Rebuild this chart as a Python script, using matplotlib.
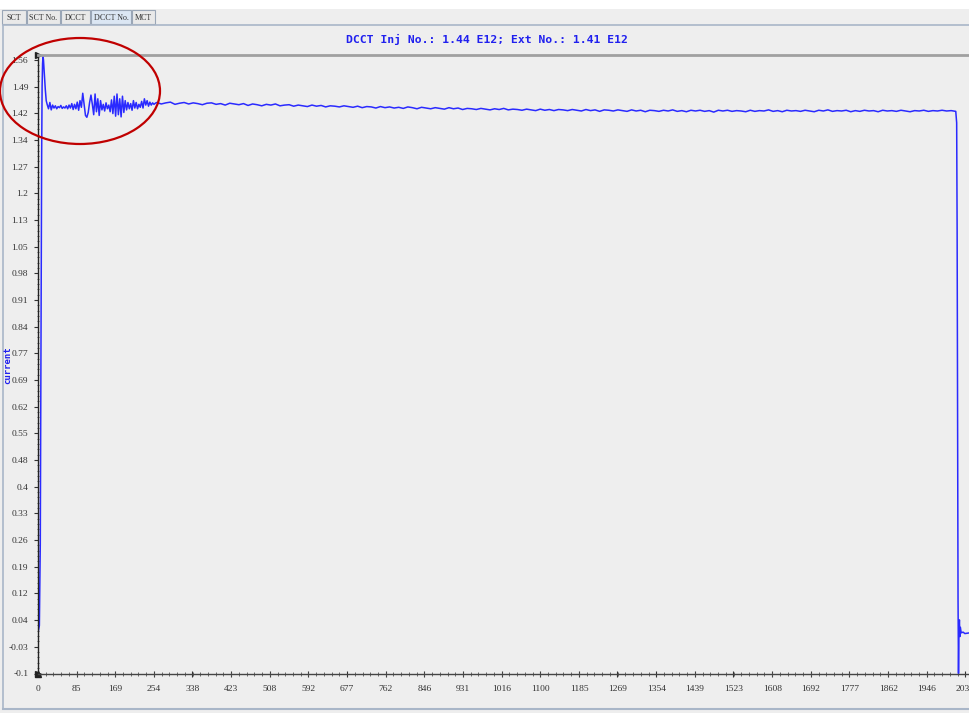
import matplotlib
matplotlib.use("Agg")
import numpy as np
import matplotlib.pyplot as plt
from matplotlib.patches import Ellipse, Rectangle
from matplotlib.lines import Line2D
from matplotlib.ticker import FixedLocator

# ---------------- data ----------------
title_text = "DCCT Inj No.: 1.44 E12; Ext No.: 1.41 E12"
y_label = "current"
tab_names = ["SCT", "SCT No.", "DCCT", "DCCT No.", "MCT"]

x_tick_labels = ["0", "85", "169", "254", "338", "423", "508", "592", "677", "762",
                 "846", "931", "1016", "1100", "1185", "1269", "1354", "1439", "1523",
                 "1608", "1692", "1777", "1862", "1946", "2031"]
y_tick_labels = ["-0.1", "-0.03", "0.04", "0.12", "0.19", "0.26", "0.33", "0.4", "0.48",
                 "0.55", "0.62", "0.69", "0.77", "0.84", "0.91", "0.98", "1.05", "1.13",
                 "1.2", "1.27", "1.34", "1.42", "1.49", "1.56"]

# injection / rise
rise_x = [0, 3, 5, 6, 7, 8, 9, 10, 11, 12, 14, 16, 18]
rise_y = [0.01, 0.03, 0.25, 0.60, 0.98, 1.30, 1.49, 1.55, 1.57, 1.56, 1.52, 1.48, 1.45]

# early oscillations (samples 20..257)
osc_x = [20, 23, 26, 29, 32, 35, 38, 41, 44, 47, 50, 53, 56, 59, 62, 65, 68, 71, 74, 77,
         80, 83, 86, 89, 92, 95, 98, 101, 104, 107, 110, 113, 116, 119, 122, 125, 128, 131, 134, 137,
         140, 143, 146, 149, 152, 155, 158, 161, 164, 167, 170, 173, 176, 179, 182, 185, 188, 191, 194, 197,
         200, 203, 206, 209, 212, 215, 218, 221, 224, 227, 230, 233, 236, 239, 242, 245, 248, 251, 254, 257]
osc_y = [1.440, 1.428, 1.445, 1.425, 1.438, 1.430, 1.436, 1.428, 1.434, 1.431,
         1.437, 1.429, 1.433, 1.430, 1.436, 1.428, 1.438, 1.430, 1.442, 1.426,
         1.440, 1.428, 1.446, 1.424, 1.450, 1.432, 1.470, 1.440, 1.410, 1.405,
         1.418, 1.445, 1.465, 1.440, 1.412, 1.468, 1.420, 1.455, 1.410, 1.450,
         1.425, 1.440, 1.422, 1.444, 1.428, 1.438, 1.420, 1.452, 1.415, 1.462,
         1.408, 1.468, 1.412, 1.455, 1.406, 1.462, 1.418, 1.450, 1.425, 1.445,
         1.428, 1.442, 1.424, 1.450, 1.430, 1.445, 1.428, 1.440, 1.432, 1.448,
         1.430, 1.455, 1.438, 1.450, 1.435, 1.446, 1.438, 1.444, 1.440, 1.443]

# flat top (samples 260..2000, every 10)
main_x = list(range(260, 2001, 10))
main_y = [1.445, 1.441, 1.444, 1.446, 1.440, 1.443, 1.445, 1.441, 1.444, 1.442,
          1.439, 1.443, 1.444, 1.440, 1.442, 1.438, 1.443, 1.441, 1.439, 1.442,
          1.437, 1.441, 1.439, 1.436, 1.440, 1.438, 1.441, 1.436, 1.438, 1.439,
          1.435, 1.438, 1.436, 1.434, 1.438, 1.435, 1.437, 1.433, 1.436, 1.435,
          1.433, 1.436, 1.434, 1.432, 1.435, 1.431, 1.434, 1.433, 1.430, 1.434,
          1.431, 1.433, 1.430, 1.432, 1.429, 1.433, 1.431, 1.428, 1.432, 1.430,
          1.428, 1.431, 1.429, 1.427, 1.431, 1.428, 1.430, 1.426, 1.429, 1.428,
          1.426, 1.429, 1.427, 1.425, 1.428, 1.426, 1.429, 1.425, 1.427, 1.426,
          1.424, 1.427, 1.425, 1.423, 1.427, 1.424, 1.426, 1.423, 1.426, 1.425,
          1.423, 1.426, 1.424, 1.422, 1.426, 1.423, 1.425, 1.421, 1.425, 1.424,
          1.422, 1.425, 1.423, 1.421, 1.425, 1.422, 1.424, 1.420, 1.424, 1.423,
          1.421, 1.424, 1.422, 1.425, 1.421, 1.423, 1.420, 1.424, 1.422, 1.424,
          1.421, 1.423, 1.419, 1.424, 1.422, 1.424, 1.421, 1.423, 1.422, 1.420,
          1.424, 1.421, 1.423, 1.422, 1.425, 1.421, 1.423, 1.420, 1.424, 1.422,
          1.423, 1.421, 1.424, 1.422, 1.420, 1.424, 1.422, 1.425, 1.421, 1.423,
          1.422, 1.424, 1.420, 1.423, 1.421, 1.424, 1.422, 1.423, 1.420, 1.424,
          1.422, 1.423, 1.421, 1.424, 1.422, 1.420, 1.423, 1.422, 1.424, 1.421,
          1.423, 1.422, 1.424, 1.422, 1.423]

# extraction / drop
tail_x = [2010, 2012, 2013, 2014, 2015, 2016, 2017, 2018, 2019, 2020, 2022, 2026, 2030, 2040]
tail_y = [1.421, 1.39, 1.10, 0.60, 0.10, -0.10, 0.02, 0.045, 0.00, 0.025, 0.01, 0.012, 0.008, 0.01]

x_all = rise_x + osc_x + main_x + tail_x
y_all = rise_y + osc_y + main_y + tail_y

# ---------------- figure ----------------
W, H = 969, 713
bg = "#eeeeee"
fig = plt.figure(figsize=(W / 100, H / 100), dpi=100, facecolor=bg)


def fx(px):
    return px / W


def fy(py):
    return 1 - py / H


# white strip at top
fig.add_artist(Rectangle((0, fy(9)), 1, 9 / H, transform=fig.transFigure,
                         facecolor="white", edgecolor="none", zorder=0))

# tabs
tab_edges = [(2, 26), (27, 60), (61, 90), (91, 131), (132, 155)]
for name, (a, b) in zip(tab_names, tab_edges):
    sel = name == "DCCT No."
    fig.add_artist(Rectangle((fx(a), fy(24)), (b - a) / W, 14 / H, transform=fig.transFigure,
                             facecolor="#dbe6f3" if sel else "#e9e9e9",
                             edgecolor="#9aa6b6", linewidth=0.8, zorder=1))
    fig.text(fx((a + b) / 2), fy(17.5), name, ha="center", va="center", fontsize=5.8,
             family="Liberation Serif", color="#333333")

# panel frame
fig.add_artist(Line2D([fx(3), 1], [fy(25), fy(25)], transform=fig.transFigure,
                      color="#a9b6c8", linewidth=1.2))
fig.add_artist(Line2D([fx(3), fx(3)], [fy(25), fy(709)], transform=fig.transFigure,
                      color="#a9b6c8", linewidth=1.2))
fig.add_artist(Line2D([fx(3), 1], [fy(709), fy(709)], transform=fig.transFigure,
                      color="#a9b6c8", linewidth=1.5))

# title
fig.text(fx(487), fy(39.5), title_text, ha="center", va="center", fontsize=8.2,
         family="DejaVu Sans Mono", fontweight="bold", color="#2020ee")

# axes
ax_left, ax_bottom, ax_top = 38, 673.5, 55
ax = fig.add_axes([fx(ax_left), fy(ax_bottom), 1 - fx(ax_left), (ax_bottom - ax_top) / H])
ax.set_facecolor(bg)
ax.plot(x_all, y_all, color="#2a2aff", linewidth=1.1, solid_joinstyle="round")

ax.set_xlim(0, 2039)
ax.set_ylim(-0.1, 1.5735)

x_pos = [float(v) for v in x_tick_labels]
y_pos = list(np.linspace(-0.1, 1.56, len(y_tick_labels)))
ax.xaxis.set_major_locator(FixedLocator(x_pos))
ax.set_xticklabels(x_tick_labels)
ax.yaxis.set_major_locator(FixedLocator(y_pos))
ax.set_yticklabels(y_tick_labels)
ax.xaxis.set_minor_locator(FixedLocator([i * (2031 / 24) / 5 for i in range(0, 126)]))
ax.yaxis.set_minor_locator(FixedLocator([-0.1 + i * (1.66 / 23) / 5 for i in range(0, 121)]))

for lab in ax.get_xticklabels() + ax.get_yticklabels():
    lab.set_family("Liberation Serif")
    lab.set_fontsize(6.8)
    lab.set_color("#333333")

ax.tick_params(axis="x", which="major", direction="inout", length=5, width=0.8,
               color="#333333", pad=6)
ax.tick_params(axis="x", which="minor", direction="inout", length=2.5, width=0.6,
               color="#555555")
ax.tick_params(axis="y", which="major", direction="out", length=3, width=0.8,
               color="#333333", pad=4)
ax.tick_params(axis="y", which="minor", direction="inout", length=2, width=0.6,
               color="#555555")

ax.spines["right"].set_visible(False)
ax.spines["left"].set_color("#222222")
ax.spines["left"].set_linewidth(1.0)
ax.spines["bottom"].set_color("#444444")
ax.spines["bottom"].set_linewidth(1.0)
ax.spines["top"].set_color("#a0a0a0")
ax.spines["top"].set_linewidth(2.0)

# small arrow markers at axis corners
ax.plot([0], [1.5735], marker=">", color="#222222", markersize=4, clip_on=False)
ax.plot([0], [-0.1], marker=">", color="#222222", markersize=4, clip_on=False)
ax.plot([0], [-0.1], marker="^", color="#222222", markersize=4, clip_on=False)

# y label
fig.text(fx(8), fy(365), y_label, rotation=90, ha="center", va="center", fontsize=6.5,
         family="DejaVu Sans Mono", fontweight="bold", color="#2020ee")

# red ellipse annotation
fig.add_artist(Ellipse((fx(80), fy(91)), 160 / W, 106 / H, transform=fig.transFigure,
                       facecolor="none", edgecolor="#c00000", linewidth=1.6, zorder=5))

fig.savefig("out.png", dpi=100, facecolor=bg)
